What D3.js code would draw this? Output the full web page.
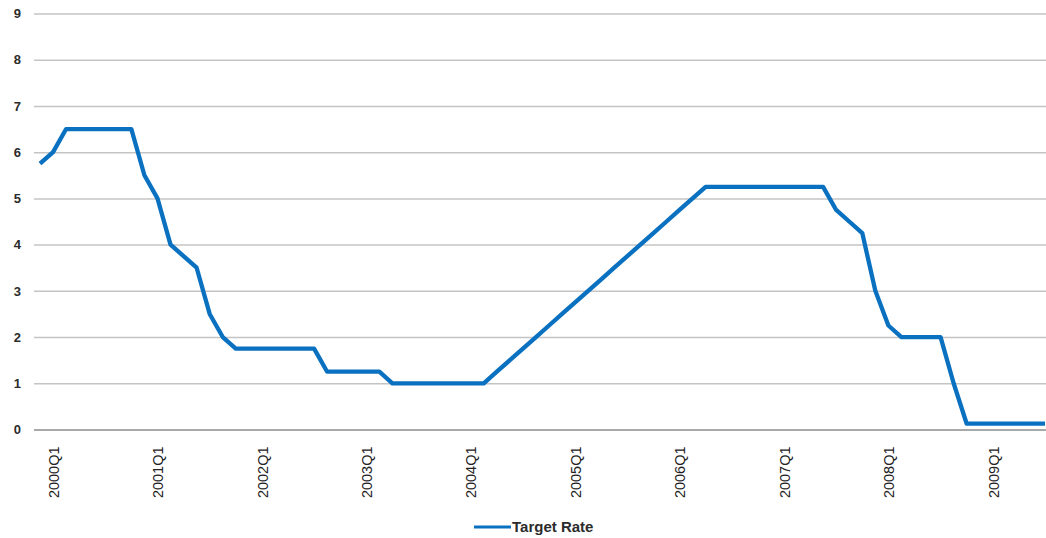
<!DOCTYPE html>
<html>
<head>
<meta charset="utf-8">
<script src="https://cdn.jsdelivr.net/npm/d3@7"></script>
<style>
  body { margin: 0; background: #fff; }
  svg { display: block; }
</style>
</head>
<body>
<script>
/* global d3 */

// one value per policy meeting
const rates = [
  5.75, 6.0, 6.5, 6.5, 6.5, 6.5, 6.5, 6.5,
  5.5, 5.0, 4.0, 3.75, 3.5, 2.5, 2.0, 1.75,
  1.75, 1.75, 1.75, 1.75, 1.75, 1.75, 1.25, 1.25,
  1.25, 1.25, 1.25, 1.0, 1.0, 1.0, 1.0, 1.0,
  1.0, 1.0, 1.0, 1.25, 1.5, 1.75, 2.0, 2.25,
  2.5, 2.75, 3.0, 3.25, 3.5, 3.75, 4.0, 4.25,
  4.5, 4.75, 5.0, 5.25, 5.25, 5.25, 5.25, 5.25,
  5.25, 5.25, 5.25, 5.25, 5.25, 4.75, 4.5, 4.25,
  3.0, 2.25, 2.0, 2.0, 2.0, 2.0, 1.0, 0.125,
  0.125, 0.125, 0.125, 0.125, 0.125, 0.125,
];

const tickLabels = ['2000Q1', '2001Q1', '2002Q1', '2003Q1', '2004Q1',
  '2005Q1', '2006Q1', '2007Q1', '2008Q1', '2009Q1'];
const tickIndex = [1, 9, 17, 25, 33, 41, 49, 57, 65, 73];
const yTicks = [0, 1, 2, 3, 4, 5, 6, 7, 8, 9];
const seriesName = 'Target Rate';

const width = 1046;
const height = 538;
const gridLeft = 34;
const font = 'Liberation Sans, Arial, sans-serif';

const x = d3.scaleLinear()
  .domain([0, rates.length - 1])
  .range([40, 1045]);

const y = d3.scaleLinear()
  .domain([0, 9])
  .range([429.5, 13.5]);

const svg = d3.select('body').append('svg')
  .attr('width', width)
  .attr('height', height);

// horizontal gridlines + y labels
const yAxis = svg.append('g')
  .attr('transform', `translate(${gridLeft},0)`)
  .call(d3.axisLeft(y)
    .tickValues(yTicks)
    .tickSize(-(width - gridLeft))
    .tickPadding(13)
    .tickFormat(d3.format('d')));

yAxis.select('.domain').remove();
yAxis.selectAll('.tick line')
  .attr('stroke', d => (d === 0 ? '#8c8c8c' : '#c4c4c4'))
  .attr('stroke-width', 1.5);
yAxis.selectAll('.tick text')
  .attr('font-family', font)
  .attr('font-size', 13)
  .attr('font-weight', 'bold')
  .attr('fill', '#2b2b2b');

// x labels, rotated
const xAxis = svg.append('g')
  .attr('transform', `translate(0,${y(0)})`)
  .call(d3.axisBottom(x)
    .tickValues(tickIndex)
    .tickSize(0)
    .tickFormat((d, i) => tickLabels[i]));

xAxis.select('.domain').remove();
xAxis.selectAll('.tick text')
  .attr('font-family', font)
  .attr('font-size', 14.5)
  .attr('fill', '#222')
  .attr('text-anchor', 'end')
  .attr('transform', 'rotate(-90)')
  .attr('x', -17)
  .attr('y', 0)
  .attr('dy', '0.36em');

// the series
const line = d3.line()
  .x((d, i) => x(i))
  .y(d => y(d));

svg.append('path')
  .datum(rates)
  .attr('fill', 'none')
  .attr('stroke', '#0a70c0')
  .attr('stroke-width', 4.3)
  .attr('stroke-linejoin', 'round')
  .attr('d', line);

// legend
const legend = svg.append('g')
  .attr('transform', 'translate(474,527)');

legend.append('line')
  .attr('x1', 0)
  .attr('x2', 37)
  .attr('stroke', '#0a70c0')
  .attr('stroke-width', 3);

legend.append('text')
  .attr('x', 38)
  .attr('dy', '0.35em')
  .attr('font-family', font)
  .attr('font-size', 15)
  .attr('font-weight', 'bold')
  .attr('fill', '#2b2b2b')
  .text(seriesName);
</script>
</body>
</html>
